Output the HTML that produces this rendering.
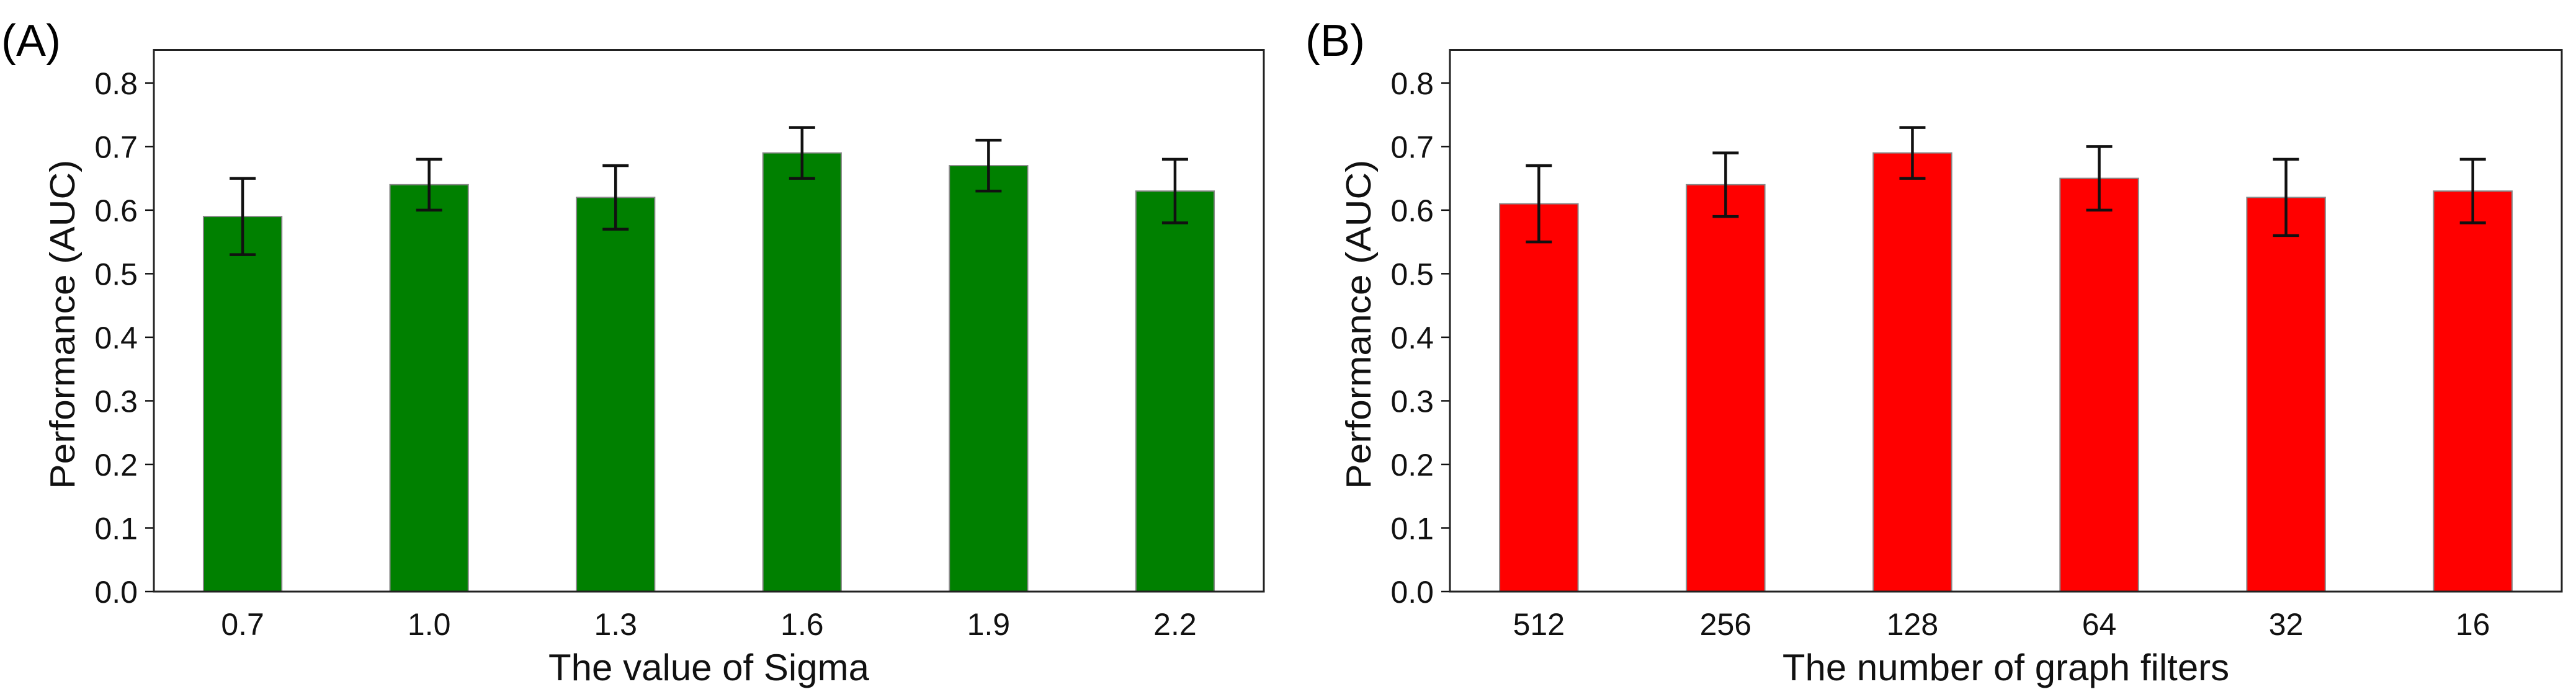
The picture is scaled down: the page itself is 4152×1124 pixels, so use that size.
<!DOCTYPE html>
<html><head><meta charset="utf-8"><style>html,body{margin:0;padding:0;background:#fff}svg{display:block}</style></head>
<body>
<svg id="fig" width="4152" height="1124" viewBox="0 0 4152 1124" xmlns="http://www.w3.org/2000/svg" font-family="Liberation Sans, sans-serif"></svg>
<script>
const catsA = ["0.7","1.0","1.3","1.6","1.9","2.2"];
const valsA = [0.59,0.64,0.62,0.69,0.67,0.63];
const errsA = [0.06,0.04,0.05,0.04,0.04,0.05];
const catsB = ["512","256","128","64","32","16"];
const valsB = [0.61,0.64,0.69,0.65,0.62,0.63];
const errsB = [0.06,0.05,0.04,0.05,0.06,0.05];
const yTicks = [0.0,0.1,0.2,0.3,0.4,0.5,0.6,0.7,0.8];
const yMax = 0.852;

const NS = "http://www.w3.org/2000/svg";
const svg = document.getElementById('fig');
function mk(tag, attrs, parent, text){
  const e = document.createElementNS(NS, tag);
  for (const k in attrs) e.setAttribute(k, attrs[k]);
  if (text !== undefined) e.textContent = text;
  (parent||svg).appendChild(e);
  return e;
}
function panel(id, left, right, cats, vals, errs, color, xlabel, letter, letterX){
  const top = 80.5, bottom = 954;
  const g = mk('g', {});
  
  
  const n = cats.length;
  const xmin = -0.476, xmax = n - 1 + 0.476;
  const xs = i => left + (i - xmin) / (xmax - xmin) * (right - left);
  const ys = v => bottom - v / yMax * (bottom - top);
  const bw = 0.42 * (right - left) / (xmax - xmin);
  const lab = mk('text', {x: letterX, y: 90, 'font-size': 72, fill: '#000'}, g, letter);
  
  
  for (let i = 0; i < n; i++){
    const cx = xs(i);
    const b = mk('rect', {x: cx - bw/2, y: ys(vals[i]), width: bw, height: bottom - ys(vals[i]), fill: color, stroke: '#888', 'stroke-width': 2}, g);
    
    
  }
  for (let i = 0; i < n; i++){
    const cx = xs(i);
    const hi = ys(vals[i] + errs[i]), lo = ys(vals[i] - errs[i]);
    const e = mk('g', {stroke: '#111', 'stroke-width': 4.5}, g);
    
    
    mk('line', {x1: cx, x2: cx, y1: hi, y2: lo}, e);
    mk('line', {x1: cx - 21, x2: cx + 21, y1: hi, y2: hi}, e);
    mk('line', {x1: cx - 21, x2: cx + 21, y1: lo, y2: lo}, e);
    mk('line', {x1: cx, x2: cx, y1: bottom, y2: bottom + 14, 'stroke-width': 2.5}, g);
    const t = mk('text', {x: cx, y: 1024, 'font-size': 50, 'text-anchor': 'middle', fill: '#111'}, g, cats[i]);
    
    
  }
  for (const v of yTicks){
    const y = ys(v);
    mk('line', {x1: left - 14, x2: left, y1: y, y2: y, stroke: '#111', 'stroke-width': 2.5}, g);
    const t = mk('text', {x: left - 26, y: y + 18, 'font-size': 50, 'text-anchor': 'end', fill: '#111'}, g, v.toFixed(1));
    
    
  }
  const fr = mk('rect', {x: left, y: top, width: right - left, height: bottom - top, fill: 'none', stroke: '#222', 'stroke-width': 3}, g);
  
  
  const yl = mk('text', {x: 0, y: 0, 'font-size': 57, 'text-anchor': 'middle', fill: '#111', transform: `translate(${left - 128},${(top + bottom)/2 + 6}) rotate(-90)`, textLength: 531, lengthAdjust: 'spacingAndGlyphs'}, g, 'Performance (AUC)');
  
  
  const xl = mk('text', {x: (left + right)/2, y: 1097, 'font-size': 60, 'text-anchor': 'middle', fill: '#111'}, g, xlabel);
  
  
}
panel('a', 248, 2037, catsA, valsA, errsA, '#008000', 'The value of Sigma', '(A)', 2);
panel('b', 2337, 4129, catsB, valsB, errsB, '#ff0000', 'The number of graph filters', '(B)', 2104);
</script>
</body></html>
